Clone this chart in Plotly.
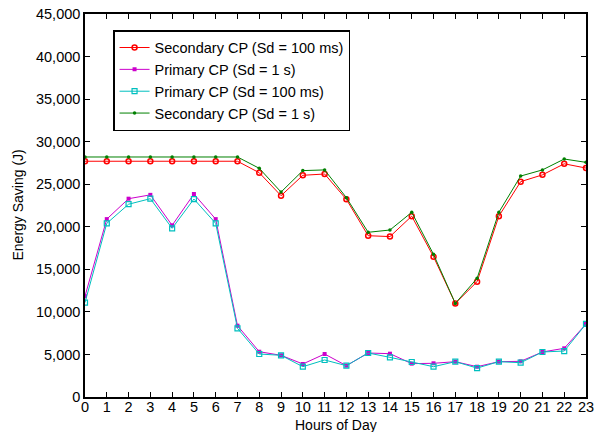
import plotly.graph_objects as go

hours = list(range(24))
sec_100ms = [27700, 27700, 27700, 27700, 27700, 27700, 27700, 27700, 26350, 23650, 26050, 26200,
             23220, 18950, 18850, 21250, 16480, 11000, 13550, 21250, 25300, 26100, 27400, 26900]
pri_1s = [11850, 20900, 23300, 23750, 20170, 23850, 20900, 8380, 5320, 4900, 3880, 5050,
          3680, 5170, 5090, 3920, 3960, 4150, 3560, 4150, 4190, 5290, 5720, 8580]
pri_100ms = [11100, 20400, 22650, 23300, 19820, 23260, 20400, 8070, 5050, 4900, 3560, 4350,
             3680, 5170, 4660, 4110, 3560, 4150, 3400, 4150, 4030, 5290, 5400, 8580]
sec_1s = [28200, 28200, 28200, 28200, 28200, 28200, 28200, 28200, 26870, 24080, 26600, 26680,
          23420, 19350, 19620, 21700, 16760, 11000, 13940, 21700, 25960, 26680, 27960, 27570]

FONT = "Liberation Sans, Arial, sans-serif"

fig = go.Figure()
fig.add_trace(go.Scatter(x=hours, y=sec_100ms, name="Secondary CP (Sd = 100 ms)", mode="lines+markers",
                         line=dict(color="#ff0000", width=1),
                         marker=dict(symbol="circle-open", size=5, color="#ff0000", line=dict(width=1.5))))
fig.add_trace(go.Scatter(x=hours, y=pri_1s, name="Primary CP (Sd = 1 s)", mode="lines+markers",
                         line=dict(color="#cc00cc", width=1),
                         marker=dict(symbol="square", size=4, color="#cc00cc")))
fig.add_trace(go.Scatter(x=hours, y=pri_100ms, name="Primary CP (Sd = 100 ms)", mode="lines+markers",
                         line=dict(color="#00bfbf", width=1),
                         marker=dict(symbol="square-open", size=5, color="#00bfbf", line=dict(width=1.2))))
fig.add_trace(go.Scatter(x=hours, y=sec_1s, name="Secondary CP (Sd = 1 s)", mode="lines+markers",
                         line=dict(color="#008000", width=1),
                         marker=dict(symbol="circle", size=3.5, color="#008000")))

axis_common = dict(showline=True, linecolor="black", linewidth=1.5, mirror="allticks",
                   ticks="inside", ticklen=5, tickcolor="black", showgrid=False, zeroline=False,
                   automargin=False,
                   tickfont=dict(family=FONT, size=14.5, color="black"))

fig.update_xaxes(range=[0, 23], tickmode="linear", tick0=0, dtick=1, ticklabelstandoff=-4,
                 **axis_common)
fig.update_yaxes(range=[0, 45000], tickmode="linear", tick0=0, dtick=5000, tickformat=",",
                 **axis_common)

fig.add_annotation(text="Hours of Day", xref="paper", yref="paper", x=0.5, y=-0.0731,
                   xanchor="center", yanchor="middle", showarrow=False,
                   font=dict(family=FONT, size=14, color="black"))
fig.add_annotation(text="Energy Saving (J)", xref="paper", yref="paper", x=-0.1357, y=0.5,
                   xanchor="center", yanchor="middle", textangle=-90, showarrow=False,
                   font=dict(family=FONT, size=14, color="black"))

fig.update_layout(
    width=596, height=432,
    margin=dict(l=85, r=10, t=14, b=35, autoexpand=False),
    paper_bgcolor="white", plot_bgcolor="white",
    font=dict(family=FONT, color="black"),
    legend=dict(x=0.056, y=0.958, xanchor="left", yanchor="top",
                bordercolor="black", borderwidth=1.5, bgcolor="white",
                font=dict(family=FONT, size=14.5, color="black"),
                itemwidth=30, tracegroupgap=0),
    showlegend=True,
)

fig.write_html("out.html", config={"displayModeBar": False},
               post_script="document.body.style.margin='0';document.body.style.overflow='hidden';")
